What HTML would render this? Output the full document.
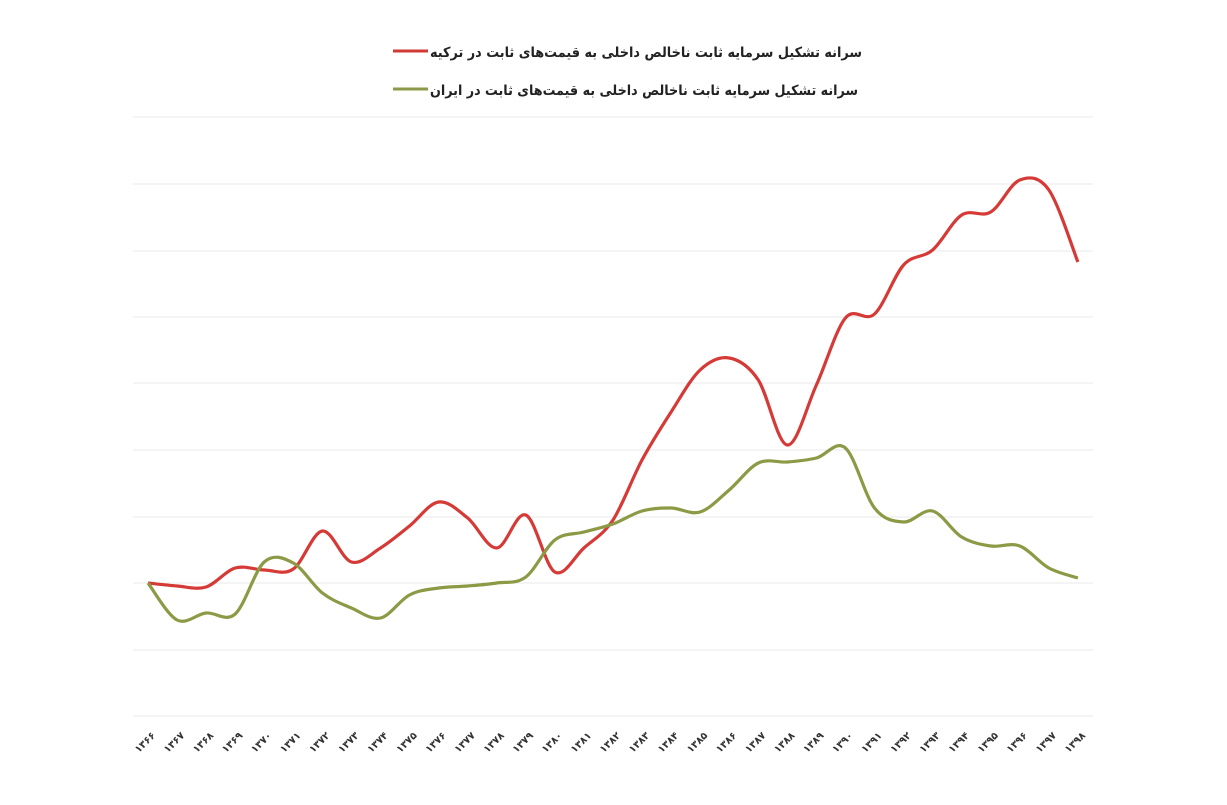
<!DOCTYPE html>
<html><head><meta charset="utf-8">
<style>
html,body{margin:0;padding:0;background:#fff;width:1227px;height:805px;overflow:hidden}
svg{display:block}
text{font-family:"DejaVu Sans","Liberation Sans",sans-serif}
</style></head>
<body>
<svg id="s" width="1227" height="805" viewBox="0 0 1227 805">
<g stroke="#e8e8e8" stroke-width="1">
<line x1="133" x2="1093" y1="117" y2="117"/>
<line x1="133" x2="1093" y1="184" y2="184"/>
<line x1="133" x2="1093" y1="251" y2="251"/>
<line x1="133" x2="1093" y1="317" y2="317"/>
<line x1="133" x2="1093" y1="383" y2="383"/>
<line x1="133" x2="1093" y1="450" y2="450"/>
<line x1="133" x2="1093" y1="517" y2="517"/>
<line x1="133" x2="1093" y1="583" y2="583"/>
<line x1="133" x2="1093" y1="650" y2="650"/>
<line x1="133" x2="1093" y1="716" y2="716"/>
</g>
<line x1="393" x2="428" y1="51" y2="51" stroke="#d03a35" stroke-width="3"/>
<text x="430" y="57" font-size="14" font-weight="bold" fill="#222" textLength="432" lengthAdjust="spacingAndGlyphs">سرانه تشکیل سرمایه ثابت ناخالص داخلی به قیمت‌های ثابت در ترکیه</text>
<line x1="393" x2="428" y1="89" y2="89" stroke="#8a9a4a" stroke-width="3"/>
<text x="430" y="95" font-size="14" font-weight="bold" fill="#222" textLength="428" lengthAdjust="spacingAndGlyphs">سرانه تشکیل سرمایه ثابت ناخالص داخلی به قیمت‌های ثابت در ایران</text>
<path id="red" fill="none" stroke="#d63a36" stroke-width="3.2"/>
<path id="grn" fill="none" stroke="#8c9a45" stroke-width="3.2"/>
<g id="lab"></g>
</svg>
<script>
var red=[583,586,587,568,570,569,531,562,548,526,502,518,548,515,572,548,520,460,412,370,358,380,445,385,318,314,265,250,215,212,180,190,262];
var grn=[583,620,613,614,562,563,593,608,618,595,588,586,583,577,540,532,524,511,508,512,490,463,462,458,448,508,522,511,537,546,546,568,578];
function X(i){return 148+29.06*i;}
function path(a){
 var p=[];for(var i=0;i<a.length;i++)p.push([X(i),a[i]]);
 var d="M"+p[0][0]+","+p[0][1];
 for(var i=0;i<p.length-1;i++){
  var p0=p[Math.max(0,i-1)],p1=p[i],p2=p[i+1],p3=p[Math.min(p.length-1,i+2)];
  var c1x=p1[0]+(p2[0]-p0[0])/6,c1y=p1[1]+(p2[1]-p0[1])/6;
  var c2x=p2[0]-(p3[0]-p1[0])/6,c2y=p2[1]-(p3[1]-p1[1])/6;
  d+=" C"+c1x.toFixed(1)+","+c1y.toFixed(1)+" "+c2x.toFixed(1)+","+c2y.toFixed(1)+" "+p2[0].toFixed(1)+","+p2[1];
 }
 return d;
}
document.getElementById("red").setAttribute("d",path(red));
document.getElementById("grn").setAttribute("d",path(grn));
var dg="۰۱۲۳۴۵۶۷۸۹",ns="http://www.w3.org/2000/svg",L=document.getElementById("lab");
for(var i=0;i<33;i++){
 var y=String(1366+i),s="";for(var k=0;k<4;k++)s+=dg[+y[k]];
 var t=document.createElementNS(ns,"text");
 var x=X(i)+8,yy=736;
 t.setAttribute("x",x);t.setAttribute("y",yy);
 t.setAttribute("text-anchor","end");t.setAttribute("font-size","10");t.setAttribute("font-weight","bold");t.setAttribute("fill","#333");
 t.setAttribute("transform","rotate(-45 "+x+" "+yy+")");
 t.textContent=s;L.appendChild(t);
}
</script>
</body></html>
